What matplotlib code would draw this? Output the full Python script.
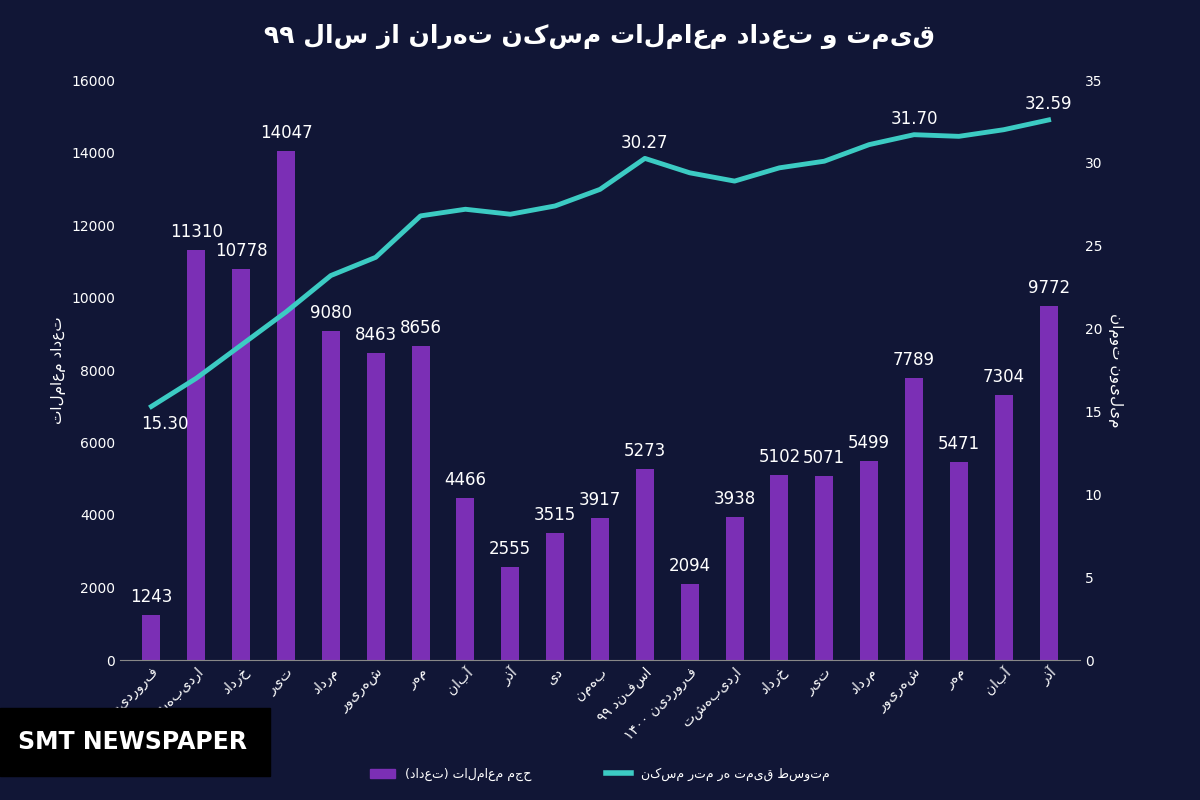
import numpy as np
import matplotlib.pyplot as plt

DIGITS = '۰۱۲۳۴۵۶۷۸۹0123456789'
MIRROR = {'(': ')', ')': '('}

def fa(s):
    # matplotlib has no RTL support: flip word order and letters, keep numbers as they are
    out = []
    for w in s.split(' ')[::-1]:
        if all(c in DIGITS for c in w):
            out.append(w)
        else:
            out.append(''.join(MIRROR.get(c, c) for c in w[::-1]))
    return ' '.join(out)

months = ['فروردین ۹۹', 'اردیبهشت', 'خرداد', 'تیر', 'مرداد', 'شهریور', 'مهر', 'آبان', 'آذر',
          'دی', 'بهمن', 'اسفند ۹۹', 'فروردین ۱۴۰۰', 'اردیبهشت', 'خرداد', 'تیر', 'مرداد',
          'شهریور', 'مهر', 'آبان', 'آذر']
deals = [1243, 11310, 10778, 14047, 9080, 8463, 8656, 4466, 2555, 3515, 3917, 5273,
         2094, 3938, 5102, 5071, 5499, 7789, 5471, 7304, 9772]
price = [15.30, 17.0, 19.0, 21.0, 23.2, 24.3, 26.8, 27.2, 26.9, 27.4, 28.4, 30.27,
         29.4, 28.9, 29.7, 30.1, 31.1, 31.70, 31.6, 32.0, 32.59]
price_labels = {0: '15.30', 11: '30.27', 17: '31.70', 20: '32.59'}

bg = '#111636'
purple = '#7b2fb5'
teal = '#3ccbc3'

plt.rcParams['font.family'] = 'DejaVu Sans'
fig = plt.figure(figsize=(12, 8), dpi=100, facecolor=bg)
ax = fig.add_axes([0.1, 0.175, 0.8, 0.725], facecolor=bg)
x = np.arange(len(months))
ax.bar(x, deals, width=0.4, color=purple)
for i, v in enumerate(deals):
    ax.text(i, v + 250, str(v), color='white', ha='center', va='bottom', fontsize=12)
ax.set_ylim(0, 16000)
ax.set_xlim(-0.7, len(months) - 0.3)
ax.set_yticks(range(0, 16001, 2000))
ax.set_xticks(x)
ax.set_xticklabels([fa(m) for m in months], rotation=45, ha='right', rotation_mode='anchor',
                   fontsize=10, color='white')
ax.tick_params(colors='white', labelsize=10, length=0)
for s in ['top', 'right', 'left']:
    ax.spines[s].set_visible(False)
ax.spines['bottom'].set_color('#888888')
ax.set_ylabel(fa('تعداد معاملات'), color='white', fontsize=11)

ax2 = ax.twinx()
ax2.plot(x, price, color=teal, lw=3.5)
for i, t in price_labels.items():
    dy = -1.6 if i == 0 else 0.4
    ax2.text(i + (0.3 if i == 0 else 0), price[i] + dy, t, color='white', ha='center', va='bottom', fontsize=12)
ax2.set_ylim(0, 35)
ax2.set_yticks(range(0, 36, 5))
ax2.tick_params(colors='white', labelsize=10, length=0)
for s in ax2.spines.values():
    s.set_visible(False)
ax2.set_ylabel(fa('میلیون تومان'), color='white', fontsize=11, rotation=270, labelpad=15)

fig.text(0.5, 0.955, fa('قیمت و تعداد معاملات مسکن تهران از سال ۹۹'), color='white',
         ha='center', va='center', fontsize=18, fontweight='bold')

h1 = plt.Rectangle((0, 0), 1, 1, color=purple)
h2 = plt.Line2D([], [], color=teal, lw=4)
fig.legend([h1, h2], [fa('حجم معاملات (تعداد)'), fa('متوسط قیمت هر متر مسکن')],
           loc='lower center', bbox_to_anchor=(0.5, 0.01), ncol=2, frameon=False,
           fontsize=9, labelcolor='white', columnspacing=6)

fig.patches.append(plt.Rectangle((0.0, 0.03), 0.225, 0.085, transform=fig.transFigure,
                                 color='black', zorder=5))
fig.text(0.015, 0.0725, 'SMT NEWSPAPER', color='white', fontsize=17, fontweight='bold',
         va='center', zorder=6)

fig.savefig('out.png', facecolor=bg)
